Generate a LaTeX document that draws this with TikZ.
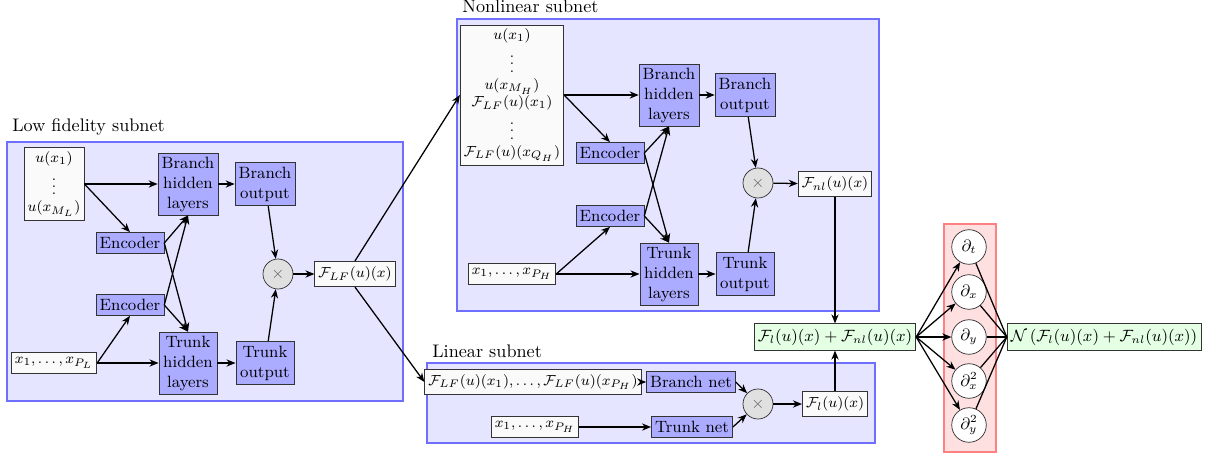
\documentclass[tikz,border=0pt]{standalone}
\usetikzlibrary{arrows.meta}

\begin{document}
\begin{tikzpicture}[x=0.55pt, y=-0.55pt, font=\small, >={Stealth[length=5pt,width=4pt]},
  blk/.style={rectangle, draw=black!80, fill=blue!33, align=center, inner sep=2pt},
  hidden/.style={blk, minimum width=32pt, minimum height=34pt},
  outp/.style={blk, minimum width=32pt, minimum height=24pt},
  enc/.style={blk, minimum height=11.5pt},
  inp/.style={rectangle, draw=black!80, fill=black!2, align=center, inner sep=2pt, minimum height=11.5pt, font=\footnotesize},
  prod/.style={circle, draw=black!80, fill=black!12, text=black!60, minimum size=16.5pt, inner sep=0pt},
  deriv/.style={circle, draw=black!80, fill=white, minimum size=19pt, inner sep=0.5pt},
  res/.style={rectangle, draw=black!80, fill=green!10, inner sep=2pt, minimum height=14.5pt},
  subnet/.style={draw=blue!57, fill=blue!10, thick},
  title/.style={anchor=base west, font=\normalsize, inner sep=0pt},
  conn/.style={->, line width=0.7pt}]
  \useasboundingbox (0,0) rectangle (1208,458);

  % backgrounds
  \draw[subnet] (7,142) rectangle (403,401);
  \draw[subnet] (457,19) rectangle (879,311);
  \draw[subnet] (427,363) rectangle (875,443);
  \draw[draw=red!50, fill=red!12, thick] (944,224) rectangle (996,452);
  \node[title] (lftitle) at (12,131) {Low fidelity subnet};
  \node[title] (nltitle) at (462,13) {Nonlinear subnet};
  \node[title] (ltitle) at (432,357) {Linear subnet};

  % low fidelity subnet
  \node[inp, minimum width=32pt, minimum height=40pt] (lfin) at (54,184) {$u(x_1)$\\$\vdots$\\$u(x_{M_L})$};
  \node[hidden] (lfbh) at (188,184) {Branch\\hidden\\layers};
  \node[outp] (lfbo) at (265,184) {Branch\\output};
  \node[enc] (lfenca) at (130,243) {Encoder};
  \node[enc] (lfencb) at (130,305) {Encoder};
  \node[inp] (lfx) at (54,363) {$x_1,\dots,x_{P_L}$};
  \node[hidden] (lfth) at (188,363) {Trunk\\hidden\\layers};
  \node[outp] (lfto) at (265,363) {Trunk\\output};
  \node[prod] (lfprod) at (278,274) {$\times$};
  \node[inp, minimum height=14pt] (lfout) at (355,274) {$\mathcal{F}_{LF}(u)(x)$};

  % nonlinear subnet
  \node[inp, minimum width=54pt, minimum height=76pt] (nlin) at (512,95) {$u(x_1)$\\$\vdots$\\$u(x_{M_H})$\\$\mathcal{F}_{LF}(u)(x_1)$\\$\vdots$\\$\mathcal{F}_{LF}(u)(x_{Q_H})$};
  \node[hidden] (nlbh) at (669,95) {Branch\\hidden\\layers};
  \node[outp] (nlbo) at (745,95) {Branch\\output};
  \node[enc] (nlenca) at (610,153) {Encoder};
  \node[enc] (nlencb) at (610,216) {Encoder};
  \node[inp] (nlx) at (512,274) {$x_1,\dots,x_{P_H}$};
  \node[hidden] (nlth) at (669,274) {Trunk\\hidden\\layers};
  \node[outp] (nlto) at (745,274) {Trunk\\output};
  \node[prod] (nlprod) at (758,183) {$\times$};
  \node[inp, minimum height=14pt] (nlout) at (835,184) {$\mathcal{F}_{nl}(u)(x)$};

  % linear subnet
  \node[inp, minimum height=13.5pt] (lin) at (533,382) {$\mathcal{F}_{LF}(u)(x_1),\dots,\mathcal{F}_{LF}(u)(x_{P_H})$};
  \node[enc] (lbn) at (691,382) {Branch net};
  \node[inp] (lx) at (535,427) {$x_1,\dots,x_{P_H}$};
  \node[enc] (ltn) at (692,427) {Trunk net};
  \node[prod] (lprod) at (758,404) {$\times$};
  \node[inp, minimum height=14pt] (lout) at (835,404) {$\mathcal{F}_l(u)(x)$};

  % residual
  \node[res] (sum) at (835,337) {$\mathcal{F}_l(u)(x)+\mathcal{F}_{nl}(u)(x)$};
  \node[deriv] (dt) at (969,247) {$\partial_t$};
  \node[deriv] (dx) at (969,292) {$\partial_x$};
  \node[deriv] (dy) at (969,337) {$\partial_y$};
  \node[deriv] (dxx) at (969,381) {$\partial_x^2$};
  \node[deriv] (dyy) at (969,425) {$\partial_y^2$};
  \node[res] (pde) at (1104,337) {$\mathcal{N}\left(\mathcal{F}_l(u)(x)+\mathcal{F}_{nl}(u)(x)\right)$};

  % connectors
  \foreach \s in {lf,nl} {
    \draw[conn] (\s in.east) -- (\s bh.west);
    \draw[conn] (\s in.east) -- (\s enca.north);
    \draw[conn] (\s x.east) -- (\s encb.south);
    \draw[conn] (\s x.east) -- (\s th.west);
    \foreach \e in {enca,encb} {
      \draw[conn] (\s\e.east) -- (\s bh.south);
      \draw[conn] (\s\e.east) -- (\s th.north);
    }
    \draw[conn] (\s bh) -- (\s bo);
    \draw[conn] (\s th) -- (\s to);
    \draw[conn] (\s bo) -- (\s prod);
    \draw[conn] (\s to) -- (\s prod);
    \draw[conn] (\s prod) -- (\s out);
  }
  \draw[conn] (lfout.north) -- (nlin.west);
  \draw[conn] (lfout.south) -- (lin.west);
  \draw[conn] (lin) -- (lbn);
  \draw[conn] (lx) -- (ltn);
  \draw[conn] (lbn.east) -- (lprod);
  \draw[conn] (ltn.east) -- (lprod);
  \draw[conn] (lprod) -- (lout);
  \draw[conn] (nlout) -- (sum);
  \draw[conn] (lout) -- (sum);
  \foreach \d in {dt,dx,dy,dxx,dyy} {
    \draw[conn] (sum.east) -- (\d);
    \draw[line width=0.7pt] (\d) -- (pde.west);
  }
\end{tikzpicture}
\end{document}
